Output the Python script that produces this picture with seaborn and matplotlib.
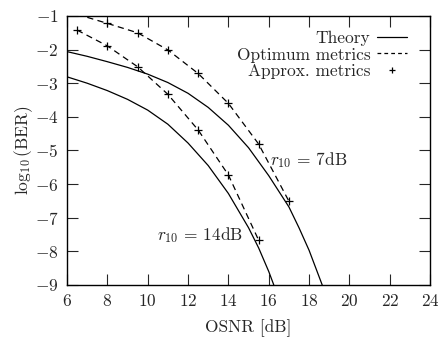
import numpy as np
import matplotlib
matplotlib.use('Agg')
import matplotlib.pyplot as plt
from matplotlib.lines import Line2D
import seaborn as sns

sns.set_style('ticks')
plt.rcParams['font.family'] = 'serif'
plt.rcParams['font.serif'] = ['cmr10', 'DejaVu Serif']
plt.rcParams['mathtext.fontset'] = 'cm'
plt.rcParams['axes.formatter.use_mathtext'] = True
plt.rcParams['axes.unicode_minus'] = True

# theory curves
theory_7_x = [6, 7, 8, 9, 10, 11, 12, 13, 14, 15, 16, 17, 17.5, 18, 18.65]
theory_7_y = [-2.06, -2.2, -2.36, -2.53, -2.73, -2.98, -3.3, -3.72, -4.25, -4.92,
              -5.75, -6.68, -7.3, -7.97, -9.0]
theory_14_x = [6, 7, 8, 9, 10, 11, 12, 13, 14, 15, 15.5, 16, 16.25]
theory_14_y = [-2.81, -3.0, -3.22, -3.48, -3.8, -4.22, -4.78, -5.45, -6.28, -7.3,
               -7.9, -8.6, -9.0]

# optimum metrics (dashed)
opt_7_x = [6.5, 8, 9.5, 11, 12.5, 14, 15.5, 17]
opt_7_y = [-0.95, -1.22, -1.50, -2.01, -2.71, -3.60, -4.81, -6.51]
opt_14_x = [6.5, 8, 9.5, 11, 12.5, 14, 15.5]
opt_14_y = [-1.42, -1.89, -2.51, -3.33, -4.39, -5.73, -7.67]

# approximate metrics (+ markers)
approx_x = [8, 9.5, 11, 12.5, 14, 15.5, 17, 6.5, 8, 9.5, 11, 12.5, 14, 15.5]
approx_y = [-1.22, -1.50, -2.01, -2.71, -3.60, -4.81, -6.51,
            -1.42, -1.89, -2.51, -3.33, -4.39, -5.73, -7.67]

fs = 12.5
fig = plt.figure(figsize=(4.38, 3.40), dpi=100)
ax = fig.add_axes([0.153, 0.162, 0.829, 0.791])

lw = 0.9
sns.lineplot(x=theory_7_x, y=theory_7_y, ax=ax, color='k', lw=lw, sort=False, estimator=None)
sns.lineplot(x=theory_14_x, y=theory_14_y, ax=ax, color='k', lw=lw, sort=False, estimator=None)
for xs, ys in [(opt_7_x, opt_7_y), (opt_14_x, opt_14_y)]:
    l = sns.lineplot(x=xs, y=ys, ax=ax, color='k', lw=lw, sort=False, estimator=None)
    l.lines[-1].set_dashes((5, 3.5))
ax.plot(approx_x, approx_y, ls='none', marker='+', ms=6, mew=0.9, color='k')

ax.set_xlim(6, 24)
ax.set_ylim(-9, -1)
ax.set_xticks(np.arange(6, 25, 2))
ax.set_yticks(np.arange(-9, 0, 1))
ax.tick_params(direction='in', length=8, width=0.8, top=True, right=True,
               labelsize=fs, pad=6)
for s in ax.spines.values():
    s.set_linewidth(1.0)
    s.set_color('k')

ax.set_xlabel('OSNR [dB]', fontsize=fs, labelpad=7)
ax.set_ylabel(r'$\log_{10}(\mathrm{BER})$', fontsize=fs, labelpad=0)

ax.text(16.06, -5.29, r'$r_{10}\,=\,7$dB', fontsize=fs, va='center', ha='left')
ax.text(10.45, -7.53, r'$r_{10}\,=\,14$dB', fontsize=fs, va='center', ha='left')

handles = [Line2D([], [], color='k', lw=lw),
           Line2D([], [], color='k', lw=lw, dashes=(3, 2.5)),
           Line2D([], [], color='k', ls='none', marker='+', ms=5, mew=0.9)]
labels = ['Theory', 'Optimum metrics', 'Approx. metrics']
ax.legend(handles, labels, loc='upper right', bbox_to_anchor=(0.955, 0.97),
          frameon=False, markerfirst=False, fontsize=fs, handlelength=1.7,
          handletextpad=0.4, labelspacing=0.05, borderaxespad=0)

fig.savefig('out.png', dpi=100)
